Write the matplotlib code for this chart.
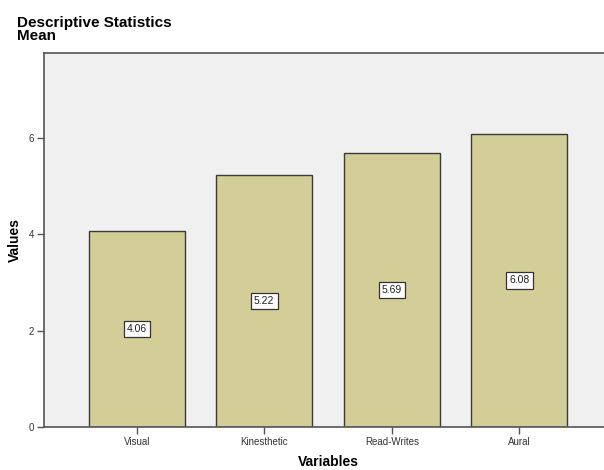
import matplotlib.pyplot as plt
import numpy as np

plt.rcParams['font.family'] = ['Liberation Sans', 'DejaVu Sans']

categories = ['Visual', 'Kinesthetic', 'Read-Writes', 'Aural']
means = [4.06, 5.22, 5.69, 6.08]
yticks = [0, 2, 4, 6]

fig = plt.figure(figsize=(6.04, 4.70), dpi=100)
# axes box in figure px: left 44, right ~612 (cut off), top 53, bottom 427
ax = fig.add_axes([44/604, (470-427)/470, (612-44)/604, (427-53)/470])
ax.set_facecolor('#f0f0f0')

x = np.arange(len(categories))
ax.bar(x, means, width=0.75, color='#d3ce97', edgecolor='#3a3a3a', linewidth=1.0, zorder=2)

for xi, m in zip(x, means):
    ax.text(xi, m/2, '%.2f' % m, ha='center', va='center', fontsize=7.5, color='#222222',
            bbox=dict(boxstyle='square,pad=0.3', fc='white', ec='#333333', lw=0.9), zorder=3)

ax.set_xlim(-0.727, 3.727)
ax.set_ylim(0, 7.76)
ax.set_xticks(x)
ax.set_xticklabels(categories)
ax.set_yticks(yticks)

for s in ['top', 'left', 'bottom']:
    ax.spines[s].set_color('#555555')
    ax.spines[s].set_linewidth(1.2)
ax.spines['right'].set_visible(False)
ax.tick_params(axis='both', direction='out', length=5, width=1, color='#555555',
               labelsize=7, labelcolor='#333333', pad=2)

ax.set_xlabel('Variables', fontsize=10, fontweight='bold', labelpad=6)
ax.set_ylabel('Values', fontsize=10, fontweight='bold', labelpad=5)

fig.text(17/604, 1 - 16/470, 'Descriptive Statistics\nMean', ha='left', va='top',
         fontsize=11, fontweight='bold', linespacing=0.92)

fig.savefig('out.png', dpi=100)
